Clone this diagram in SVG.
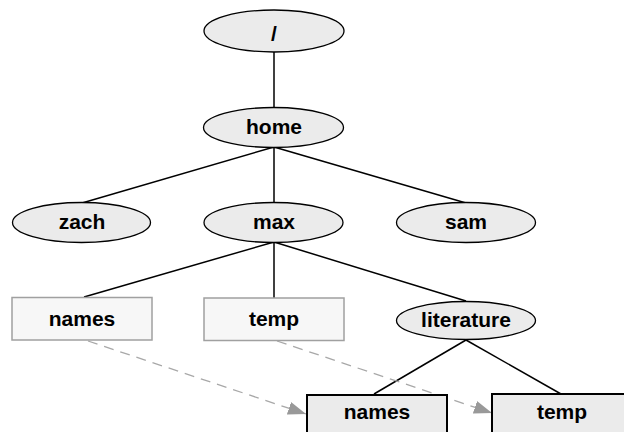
<svg xmlns="http://www.w3.org/2000/svg" width="624" height="432" viewBox="0 0 624 432">
<defs>
<style>
.dir ellipse{fill:#ebebeb;stroke:#000;stroke-width:1.3}
.file rect{fill:#f7f7f7;stroke:#a0a0a0;stroke-width:1.5}
.link rect{fill:#ebebeb;stroke:#000;stroke-width:2}
text{font-family:"Liberation Sans",Arial,Helvetica,sans-serif;font-weight:bold;font-size:21px;fill:#000;text-anchor:middle}
.edges line{stroke:#000;stroke-width:1.5}
.links line{stroke:#a8a8a8;stroke-width:1.3;stroke-dasharray:10 7}
</style>
<marker id="arr" viewBox="0 0 18 13" refX="18" refY="6.5" markerWidth="18" markerHeight="13" markerUnits="userSpaceOnUse" orient="auto">
<path d="M0,0 L18,6.5 L0,13 z" fill="#999"/>
</marker>
</defs>
<rect width="624" height="432" fill="#fff"/>
<g id="connectors">
<g class="edges">
<line x1="274" y1="52" x2="274" y2="108"/>
<line x1="274" y1="147" x2="82" y2="203"/>
<line x1="274" y1="147" x2="274" y2="203"/>
<line x1="274" y1="147" x2="466" y2="203"/>
<line x1="274" y1="242" x2="84" y2="297"/>
<line x1="274" y1="242" x2="274" y2="298"/>
<line x1="274" y1="242" x2="466" y2="301"/>
<line x1="466" y1="340" x2="374" y2="394"/>
<line x1="466" y1="340" x2="561" y2="394"/>
</g>
<g class="links">
<line x1="88" y1="341" x2="306" y2="414" marker-end="url(#arr)"/>
<line x1="277" y1="341" x2="492" y2="413" marker-end="url(#arr)"/>
</g>
</g>
<g id="root" class="dir"><ellipse cx="274" cy="31" rx="70" ry="21"/><text x="274" y="41">/</text></g>
<g id="home" class="dir"><ellipse cx="273.5" cy="127.5" rx="70" ry="20"/><text x="274" y="133.5">home</text></g>
<g id="zach" class="dir"><ellipse cx="81.5" cy="222.5" rx="69" ry="20"/><text x="82" y="228.5">zach</text></g>
<g id="max" class="dir"><ellipse cx="273.5" cy="222.5" rx="69.5" ry="20"/><text x="274" y="228.5">max</text></g>
<g id="sam" class="dir"><ellipse cx="466" cy="222.5" rx="69.5" ry="20"/><text x="466" y="228.5">sam</text></g>
<g id="names1" class="file"><rect x="12" y="297.5" width="140" height="42.5"/><text x="82" y="326">names</text></g>
<g id="temp1" class="file"><rect x="204" y="298" width="140" height="42.5"/><text x="274" y="326">temp</text></g>
<g id="literature" class="dir"><ellipse cx="466" cy="320.5" rx="69.5" ry="19"/><text x="466" y="327">literature</text></g>
<g id="names2" class="link"><rect x="307" y="395" width="140" height="44"/><text x="377" y="419">names</text></g>
<g id="temp2" class="link"><rect x="492" y="394" width="140" height="44"/><text x="562" y="419">temp</text></g>
</svg>
